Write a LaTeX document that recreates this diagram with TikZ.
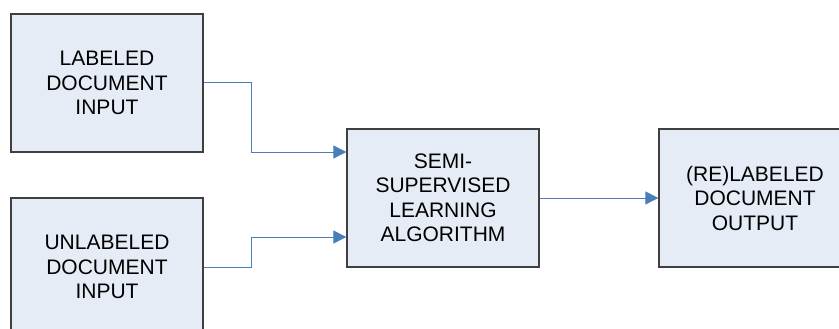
\documentclass[tikz,border=0pt]{standalone}
\usepackage{fontspec}
\setmainfont{Liberation Sans}
\usetikzlibrary{arrows.meta}
\definecolor{boxline}{HTML}{404040}
\definecolor{boxfill}{HTML}{E6ECF6}
\definecolor{linkblue}{HTML}{4A7EBB}
\begin{document}
\begin{tikzpicture}[x=1pt,y=-1pt,
  box/.style={draw=boxline, fill=boxfill, line width=1.3pt, minimum width=192pt, minimum height=138pt,
    align=center, inner sep=0pt, font=\fontsize{21}{24.5}\selectfont},
  conn/.style={draw=linkblue, line width=1pt, -{Triangle[length=13pt,width=13pt]}}]
\clip (0,0) rectangle (839,329);
\fill[white] (0,0) rectangle (839,329);
\node[box] (lab) at (107,83) {LABELED\\DOCUMENT\\INPUT};
\node[box] (unl) at (107,267) {UNLABELED\\DOCUMENT\\INPUT};
\node[box] (alg) at (443,198) {SEMI-\\SUPERVISED\\LEARNING\\ALGORITHM};
\node[box] (out) at (755,198) {(RE)LABELED\\DOCUMENT\\OUTPUT};
\coordinate (j1) at (251,152);
\coordinate (j2) at (251,237);
\draw[conn] (lab.east) -| (j1) -- ([yshift=46pt]alg.west);
\draw[conn] (unl.east) -| (j2) -- ([yshift=-39pt]alg.west);
\draw[conn] (alg) -- (out);
\end{tikzpicture}
\end{document}
